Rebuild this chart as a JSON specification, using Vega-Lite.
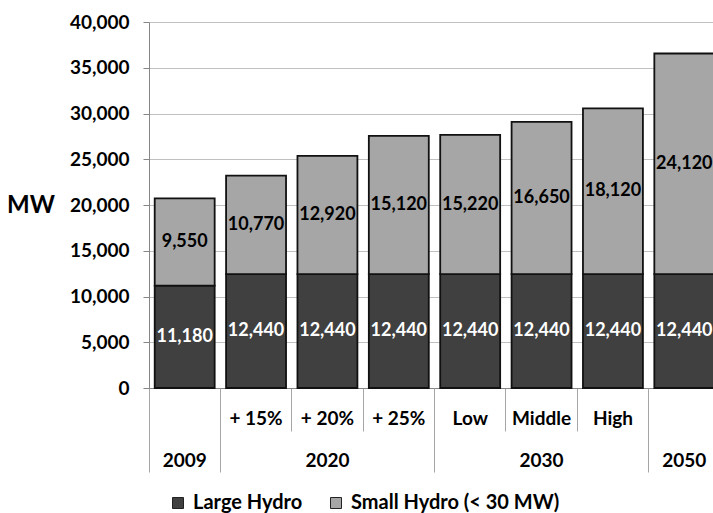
{
  "$schema": "https://vega.github.io/schema/vega-lite/v6.json",
  "width": 564,
  "height": 366,
  "autosize": "none",
  "padding": {"left": 149, "top": 22, "right": 0, "bottom": 125},
  "background": "white",
  "config": {"view": {"stroke": null}, "font": "Lato"},
  "data": {
    "values": [
      {"cat": "2009", "type": "Large Hydro", "value": 11180},
      {"cat": "2009", "type": "Small Hydro (< 30 MW)", "value": 9550},
      {"cat": "+ 15%", "type": "Large Hydro", "value": 12440},
      {"cat": "+ 15%", "type": "Small Hydro (< 30 MW)", "value": 10770},
      {"cat": "+ 20%", "type": "Large Hydro", "value": 12440},
      {"cat": "+ 20%", "type": "Small Hydro (< 30 MW)", "value": 12920},
      {"cat": "+ 25%", "type": "Large Hydro", "value": 12440},
      {"cat": "+ 25%", "type": "Small Hydro (< 30 MW)", "value": 15120},
      {"cat": "Low", "type": "Large Hydro", "value": 12440},
      {"cat": "Low", "type": "Small Hydro (< 30 MW)", "value": 15220},
      {"cat": "Middle", "type": "Large Hydro", "value": 12440},
      {"cat": "Middle", "type": "Small Hydro (< 30 MW)", "value": 16650},
      {"cat": "High", "type": "Large Hydro", "value": 12440},
      {"cat": "High", "type": "Small Hydro (< 30 MW)", "value": 18120},
      {"cat": "2050", "type": "Large Hydro", "value": 12440},
      {"cat": "2050", "type": "Small Hydro (< 30 MW)", "value": 24120}
    ]
  },
  "resolve": {"axis": {"x": "independent", "y": "independent"}},
  "layer": [
    {
      "mark": {"type": "bar", "stroke": "#111111", "strokeWidth": 1.8},
      "encoding": {
        "x": {
          "field": "cat", "type": "nominal", "sort": null,
          "scale": {"range": [0, 571], "paddingInner": 0.16, "paddingOuter": 0.08},
          "axis": {
            "orient": "bottom",
            "title": null, "bandPosition": -0.0952, "tickSize": 43, "tickColor": "#a6a6a6",
            "domainColor": "#868686", "grid": false, "labelAngle": 0, "labelOverlap": false,
            "labelExpr": "datum.value == '2009' || datum.value == '2050' ? '' : datum.value",
            "labelBaseline": "middle", "labelPadding": -13,
            "labelFont": "Lato", "labelFontWeight": "bold", "labelFontSize": 19, "labelColor": "#000000"
          }
        },
        "y": {
          "field": "value", "type": "quantitative", "stack": "zero",
          "scale": {"domain": [0, 40000], "nice": false},
          "axis": {
            "orient": "left",
            "title": "MW", "titleAngle": 0, "titleFont": "Lato", "titleFontSize": 24, "titleFontWeight": "bold",
            "titleAlign": "right", "titleBaseline": "middle", "titlePadding": 15, "titleColor": "#000000",
            "values": [0, 5000, 10000, 15000, 20000, 25000, 30000, 35000, 40000],
            "format": ",.0f", "tickSize": 6, "tickColor": "#868686", "domainColor": "#868686",
            "grid": true, "gridColor": "#c0c0c0",
            "labelFont": "Lato", "labelFontSize": 19, "labelFontWeight": "bold", "labelPadding": 14, "labelColor": "#000000"
          }
        },
        "color": {
          "field": "type", "type": "nominal",
          "scale": {"domain": ["Large Hydro", "Small Hydro (< 30 MW)"], "range": ["#404040", "#a6a6a6"]},
          "legend": {
            "title": null, "orient": "none", "direction": "horizontal", "legendX": 19, "legendY": 471,
            "symbolType": "square", "symbolSize": 121, "symbolStrokeColor": "#222222", "symbolStrokeWidth": 1,
            "labelFont": "Lato", "labelFontSize": 20, "labelFontWeight": "bold", "labelColor": "#000000",
            "labelOffset": 5, "columnPadding": 23, "labelLimit": 400
          }
        },
        "order": {"field": "type", "sort": "ascending"}
      }
    },
    {
      "mark": {"type": "text", "font": "Lato", "fontSize": 18, "fontWeight": "bold", "baseline": "middle"},
      "encoding": {
        "x": {
          "field": "cat", "type": "nominal", "sort": null,
          "axis": {
            "orient": "bottom",
            "title": null, "bandPosition": -0.0952, "tickSize": 84, "tickColor": "#a6a6a6",
            "tickOpacity": {"condition": {"test": "indexof(['2009', '+ 15%', 'Low', '2050'], datum.value) >= 0", "value": 1}, "value": 0},
            "domain": false, "grid": false, "labelAngle": 0, "labelOverlap": false,
            "labelExpr": "datum.value == '2009' ? '2009' : datum.value == '+ 20%' ? '2020' : datum.value == 'Middle' ? '2030' : datum.value == '2050' ? '2050' : ''",
            "labelBaseline": "middle", "labelPadding": -12,
            "labelFont": "Lato", "labelFontWeight": "bold", "labelFontSize": 19, "labelColor": "#000000"
          }
        },
        "y": {"field": "value", "type": "quantitative", "stack": "zero", "bandPosition": 0.5, "axis": null},
        "detail": {"field": "type"},
        "order": {"field": "type", "sort": "ascending"},
        "text": {"field": "value", "type": "quantitative", "format": ","},
        "fill": {"condition": {"test": "datum.type == 'Large Hydro'", "value": "#ffffff"}, "value": "#000000"}
      }
    }
  ]
}
